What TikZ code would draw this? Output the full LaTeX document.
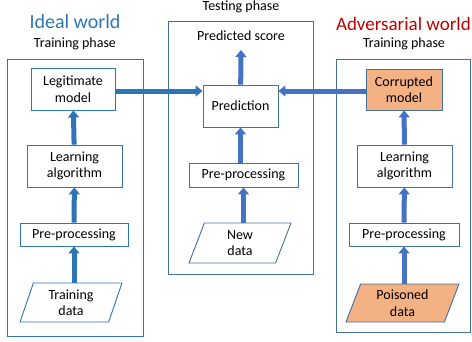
\documentclass[tikz,border=0pt]{standalone}
\usepackage{fontspec}
\setmainfont{Carlito}
\usetikzlibrary{shapes.geometric,arrows.meta}
\definecolor{idealblue}{HTML}{2E75B6}
\definecolor{framegray}{HTML}{41719C}
\definecolor{flowblue}{HTML}{4472C4}
\definecolor{advred}{HTML}{C00000}
\definecolor{poison}{HTML}{F4B183}
\tikzset{
  stage/.style={draw=#1, line width=0.9pt, fill=white, align=center, inner sep=0pt,
    font=\fontsize{14}{16.5}\selectfont},
  datain/.style={stage=#1, trapezium, trapezium stretches body},
  worldframe/.style={draw=#1, line width=1pt},
  flow/.style={draw=#1, line width=5pt, -{Triangle[width=11pt,length=7pt]}},
  caption/.style={font=\fontsize{14}{16}\selectfont, inner sep=0pt},
  title/.style={font=\fontsize{20}{22}\selectfont, inner sep=0pt}
}
\begin{document}
\begin{tikzpicture}[x=1pt,y=-1pt]
  \useasboundingbox (0,0) rectangle (472,341);
  % frames
  \draw[worldframe=idealblue] (7,59) rectangle (143,336);
  \draw[worldframe=framegray] (168,21) rectangle (313,274);
  \draw[worldframe=framegray] (336,59) rectangle (470,332);
  % titles
  \node[title, text=idealblue] (idealt) at (75,22) {Ideal world};
  \node[caption] (idealp) at (75,44) {Training phase};
  \node[caption, anchor=north] (testp) at (241,0.5) {Testing phase};
  \node[title, text=advred, anchor=east, font=\fontsize{19}{21}\selectfont] (advt) at (471,24) {Adversarial world};
  \node[caption] (advp) at (404,44) {Training phase};
  % ideal world
  \node[stage=idealblue, minimum width=84pt, minimum height=42pt] (legit) at (73,89) {Legitimate\\model};
  \node[stage=idealblue, minimum width=95pt, minimum height=42pt] (learnl) at (74.5,166) {Learning\\algorithm};
  \node[stage=idealblue, minimum width=108pt, minimum height=23pt] (prel) at (74,234.5) {Pre-processing};
  \node[datain=idealblue, trapezium left angle=63, trapezium right angle=117,
        minimum width=102pt, minimum height=39pt] (train) at (71,302.5) {Training\\data};
  % testing phase
  \node[caption] (score) at (241,36) {Predicted score};
  \coordinate (scoret) at (241,50);
  \node[stage=framegray, minimum width=75pt, minimum height=42pt] (pred) at (240.5,106) {Prediction};
  \node[stage=framegray, minimum width=109pt, minimum height=24pt] (prem) at (243.5,175) {Pre-processing};
  \node[datain=framegray, trapezium left angle=59, trapezium right angle=121,
        minimum width=102pt, minimum height=40pt] (newd) at (240,243) {New\\data};
  % adversarial world
  \node[stage=framegray, fill=poison, minimum width=76pt, minimum height=41pt] (corrupt) at (404,89.5) {Corrupted\\model};
  \node[stage=framegray, minimum width=95pt, minimum height=42pt] (learnr) at (404.5,166) {Learning\\algorithm};
  \node[stage=framegray, minimum width=110pt, minimum height=23pt] (prer) at (404,234.5) {Pre-processing};
  \node[datain=framegray, fill=poison, trapezium left angle=61, trapezium right angle=119,
        minimum width=113pt, minimum height=38pt] (poisond) at (402.5,303) {Poisoned\\data};
  % connectors
  \draw[flow=idealblue] (train.north -| prel) -- (prel);
  \draw[flow=idealblue] (prel) -- (learnl);
  \draw[flow=idealblue] (learnl) -- (legit);
  \draw[flow=flowblue] (newd.north -| prem) -- (prem);
  \draw[flow=flowblue] (prem.north -| pred) -- (pred);
  \draw[flow=flowblue] (pred) -- (scoret);
  \draw[flow=flowblue] (poisond.north -| prer) -- (prer);
  \draw[flow=flowblue] (prer) -- (learnr);
  \draw[flow=flowblue] (learnr) -- (corrupt);
  \draw[flow=idealblue] ([yshift=-2pt]legit.east) -- ([yshift=-2pt]legit.east -| pred.west);
  \draw[flow=flowblue] ([yshift=-1.5pt]corrupt.west) -- ([yshift=-1.5pt]corrupt.west -| pred.east);
\end{tikzpicture}
\end{document}
